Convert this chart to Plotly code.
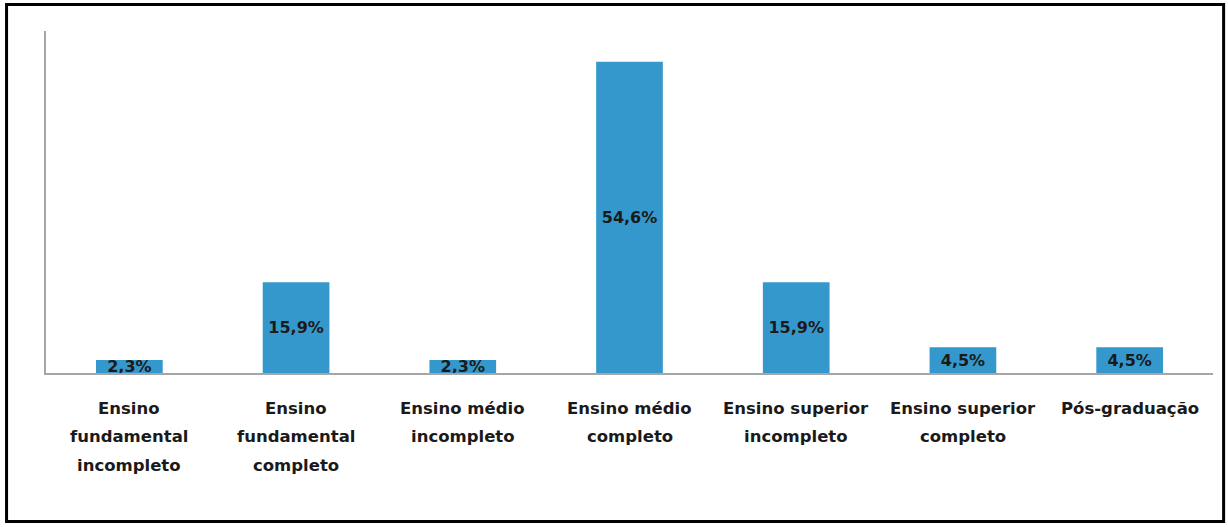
import plotly.graph_objects as go

# Escolaridade dos respondentes (%)
categorias = [
    "Ensino fundamental incompleto",
    "Ensino fundamental completo",
    "Ensino médio incompleto",
    "Ensino médio completo",
    "Ensino superior incompleto",
    "Ensino superior completo",
    "Pós-graduação",
]
rotulos = [
    ["Ensino", "fundamental", "incompleto"],
    ["Ensino", "fundamental", "completo"],
    ["Ensino médio", "incompleto"],
    ["Ensino médio", "completo"],
    ["Ensino superior", "incompleto"],
    ["Ensino superior", "completo"],
    ["Pós-graduação"],
]
percentuais = [2.3, 15.9, 2.3, 54.6, 15.9, 4.5, 4.5]

FONTE = "DejaVu Sans"
COR_TEXTO = "#1a1a1a"

fig = go.Figure(
    go.Bar(
        x=categorias,
        y=percentuais,
        marker=dict(color="#3598CC", line=dict(width=0)),
        texttemplate="<b>%{y:.1f}%</b>",
        textposition="inside",
        insidetextanchor="middle",
        constraintext="none",
        textfont=dict(family=FONTE, size=16, color=COR_TEXTO),
        cliponaxis=False,
        hoverinfo="skip",
    )
)

# category labels, one annotation per line for wide line spacing
anotacoes = []
for cat, linhas in zip(categorias, rotulos):
    for i, linha in enumerate(linhas):
        anotacoes.append(
            dict(
                x=cat, xref="x", y=0, yref="paper",
                text=f"<b>{linha}</b>", showarrow=False,
                xanchor="center", yanchor="middle",
                yshift=-35 - 28.5 * i,
                font=dict(family=FONTE, size=16.5, color=COR_TEXTO),
            )
        )

fig.update_layout(
    width=1228, height=527,
    margin=dict(l=46, r=15, t=31, b=154),
    paper_bgcolor="white", plot_bgcolor="white",
    separators=",.",
    bargap=0.6,
    showlegend=False,
    annotations=anotacoes,
    xaxis=dict(
        showticklabels=False, ticks="", showgrid=False, zeroline=False,
        showline=True, linecolor="#A6A6A6", linewidth=2,
    ),
    yaxis=dict(
        range=[0, 60], showticklabels=False, ticks="", showgrid=False,
        zeroline=False, showline=True, linecolor="#A6A6A6", linewidth=2,
    ),
    shapes=[
        dict(
            type="rect", xref="paper", yref="paper",
            x0=-0.0338, x1=1.0091, y0=-0.434, y1=1.0775,
            line=dict(color="black", width=3), fillcolor="rgba(0,0,0,0)",
            layer="above",
        )
    ],
)

fig.write_html("out.html")
